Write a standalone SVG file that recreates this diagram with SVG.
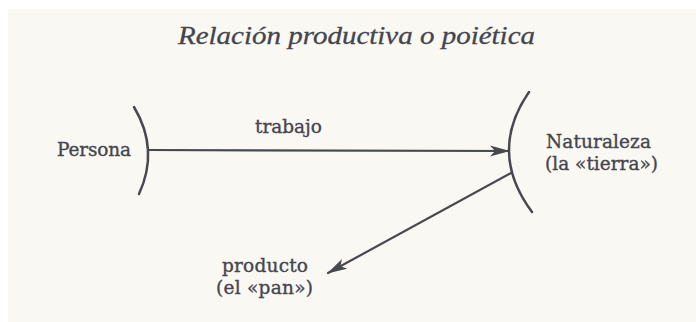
<svg xmlns="http://www.w3.org/2000/svg" width="696" height="322" viewBox="0 0 696 322">
<style>
.t{font-family:"DejaVu Serif","Liberation Serif",serif;font-size:18.5px;fill:#45454e;stroke:#45454e;stroke-width:0.35}
.title{font-family:"Liberation Serif","Times New Roman",serif;font-style:italic;font-size:26px;fill:#45454e;stroke:#45454e;stroke-width:0.3}
.ln{fill:none;stroke:#48484f;stroke-width:2.2;stroke-linecap:round}
.br{fill:none;stroke:#48484f;stroke-width:2.5;stroke-linecap:round}
</style>
<defs>
<marker id="ah" viewBox="0 0 20 12" refX="19" refY="6" markerWidth="20" markerHeight="12" markerUnits="userSpaceOnUse" orient="auto">
<path d="M0,0.5 L20,6 L0,11.5 L5,6 Z" fill="#48484f"/>
</marker>
</defs>
<rect x="0" y="0" width="696" height="322" fill="#ffffff"/>
<rect x="8" y="9" width="688" height="313" fill="#f9f8f3"/>
<text class="title" x="178" y="44" textLength="357" lengthAdjust="spacingAndGlyphs">Relación productiva o poiética</text>
<g id="persona">
<path class="br" d="M134,107 Q159.5,149.5 139,194"/>
<text class="t" x="57" y="156" textLength="74">Persona</text>
</g>
<g id="naturaleza">
<path class="br" d="M529,92 Q487.5,152 532,212"/>
<text class="t" x="546" y="148" textLength="105">Naturaleza</text>
<text class="t" x="545" y="170" textLength="113">(la «tierra»)</text>
</g>
<g id="producto">
<text class="t" x="222" y="272" textLength="86">producto</text>
<text class="t" x="216" y="294" textLength="97">(el «pan»)</text>
</g>
<g id="connectors">
<line class="ln" x1="148" y1="150" x2="509" y2="151" marker-end="url(#ah)"/>
<text class="t" x="255" y="133" textLength="67">trabajo</text>
<line class="ln" x1="511" y1="173" x2="328" y2="273" marker-end="url(#ah)"/>
</g>
</svg>
